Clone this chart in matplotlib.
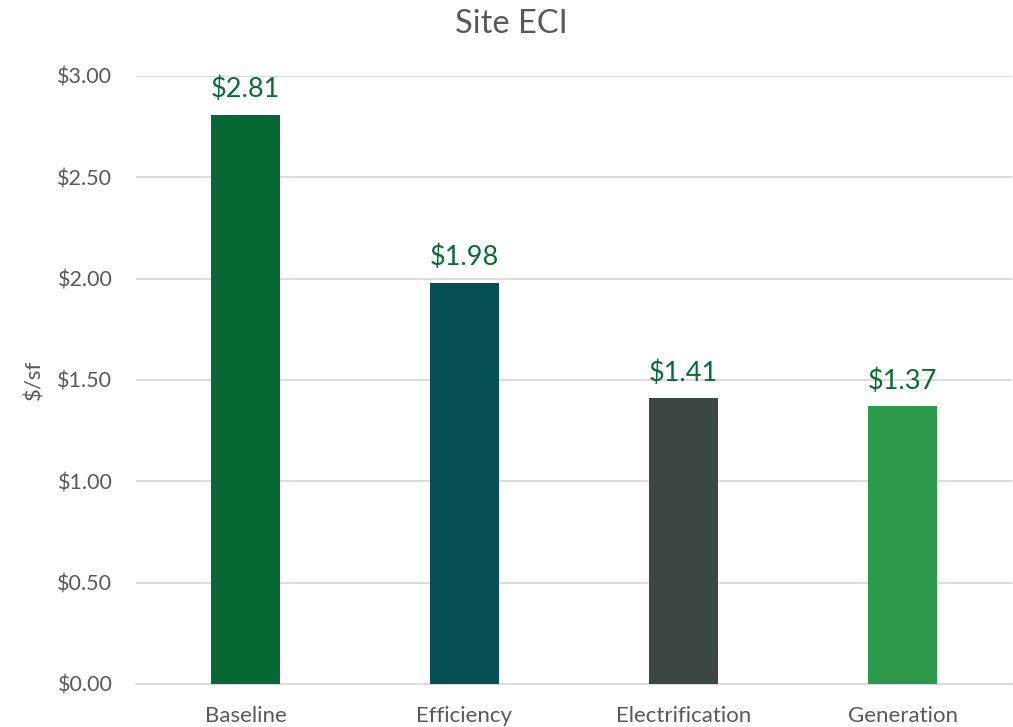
import matplotlib
matplotlib.use("Agg")
import matplotlib.pyplot as plt
from matplotlib.ticker import FuncFormatter

categories = ["Baseline", "Efficiency", "Electrification", "Generation"]
values = [2.81, 1.98, 1.41, 1.37]
bar_colors = ["#056835", "#054F55", "#3C4743", "#2C9A4A"]
y_ticks = [0.0, 0.5, 1.0, 1.5, 2.0, 2.5, 3.0]

plt.rcParams["font.family"] = ["Lato", "DejaVu Sans"]

fig = plt.figure(figsize=(10.13, 7.27), dpi=100)
ax = fig.add_axes([136 / 1013, 1 - 684 / 727, 876 / 1013, 608 / 727])

x = range(len(categories))
bars = ax.bar(x, values, width=0.315, color=bar_colors, zorder=3)

for xi, v in zip(x, values):
    ax.annotate(f"${v:.2f}", (xi, v), xytext=(0, 9), textcoords="offset points",
                ha="center", va="bottom", fontsize=19.5, color="#0B6B38")

ax.set_xlim(-0.5, len(categories) - 0.5)
ax.set_ylim(0, 3.0)
ax.set_yticks(y_ticks)
ax.yaxis.set_major_formatter(FuncFormatter(lambda v, _: f"${v:.2f}"))
ax.set_xticks(list(x))
ax.set_xticklabels(categories)

ax.grid(axis="y", color="#D9D9D9", linewidth=1.3, zorder=0)
for side in ("top", "right", "left"):
    ax.spines[side].set_visible(False)
ax.spines["bottom"].set_color("#D9D9D9")
ax.spines["bottom"].set_linewidth(1.3)
ax.tick_params(axis="both", length=0, labelcolor="#595959")
ax.tick_params(axis="y", pad=17, labelsize=15.5)
ax.tick_params(axis="x", pad=16, labelsize=16)

ax.set_ylabel("$/sf", fontsize=16, color="#595959", labelpad=9)
fig.text(0.505, 1 - 24 / 727, "Site ECI", ha="center", va="center",
         fontsize=23.5, color="#595959")

fig.savefig("out.png", dpi=100)
